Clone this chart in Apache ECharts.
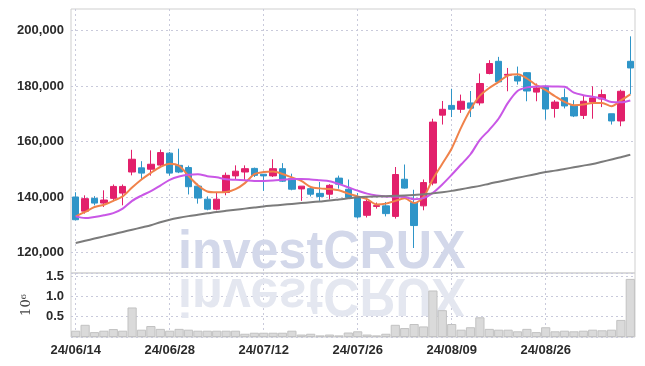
<!DOCTYPE html>
<html>
<head>
<meta charset="utf-8">
<script src="https://cdn.jsdelivr.net/npm/echarts@6/dist/echarts.min.js"></script>
<style>
html, body { margin: 0; padding: 0; background: #fff; }
#chart { width: 645px; height: 366px; }
</style>
</head>
<body>
<div id="chart"></div>
<script>
var dates = [
    '24/06/14', '24/06/17', '24/06/18', '24/06/19', '24/06/20', '24/06/21', '24/06/24', '24/06/25', '24/06/26', '24/06/27',
    '24/06/28', '24/07/01', '24/07/02', '24/07/03', '24/07/04', '24/07/05', '24/07/08', '24/07/09', '24/07/10', '24/07/11',
    '24/07/12', '24/07/15', '24/07/16', '24/07/17', '24/07/18', '24/07/19', '24/07/22', '24/07/23', '24/07/24', '24/07/25',
    '24/07/26', '24/07/29', '24/07/30', '24/07/31', '24/08/01', '24/08/02', '24/08/05', '24/08/06', '24/08/07', '24/08/08',
    '24/08/09', '24/08/12', '24/08/13', '24/08/14', '24/08/16', '24/08/19', '24/08/20', '24/08/21', '24/08/22', '24/08/23',
    '24/08/26', '24/08/27', '24/08/28', '24/08/29', '24/08/30', '24/09/02', '24/09/03', '24/09/04', '24/09/05', '24/09/06'
];

var opens = [
    140000, 134900, 139500, 137800, 139500, 141400, 149000, 150500, 150000, 151500,
    155800, 151400, 150600, 143900, 139200, 135600, 141600, 147600, 149000, 150300,
    148200, 147600, 150200, 146600, 142900, 143000, 141300, 141000, 146800, 142800,
    140000, 133400, 136600, 136800, 133000, 146400, 138000, 136800, 145000, 169500,
    173000, 171600, 173900, 173900, 184500, 188900, 183900, 183500, 184800, 177800,
    179900, 171900, 175800, 173000, 169400, 174200, 175300, 170000, 167400, 188900
];
var closes = [
    131800, 139400, 137800, 138900, 143800, 143800, 153600, 148600, 151800, 156000,
    148600, 149000, 143700, 139600, 135600, 139200, 147800, 149300, 150200, 147800,
    147600, 150200, 145700, 142800, 143900, 141000, 140200, 144200, 144600, 139800,
    132800, 138400, 136900, 134000, 148100, 143200, 129700, 145200, 167000, 171600,
    171600, 174500, 172000, 180900, 188100, 181500, 184200, 181800, 178200, 179300,
    171700, 174200, 172800, 169200, 174500, 175700, 176900, 167400, 178100, 186500
];
var lows = [
    131600, 134000, 137000, 136400, 138800, 137000, 147800, 146200, 147700, 150800,
    147700, 148600, 140900, 137600, 135200, 135200, 140600, 146400, 146000, 147200,
    142200, 147200, 145400, 142400, 138600, 140200, 138600, 139100, 143000, 139400,
    132200, 132600, 135800, 133000, 132200, 143000, 121600, 135200, 144200, 166100,
    168800, 170300, 168800, 173000, 184200, 181400, 178100, 180500, 174500, 174500,
    167900, 168600, 171900, 168800, 168100, 168200, 172400, 166100, 165500, 177000
];
var highs = [
    141700, 140600, 140300, 142400, 144500, 144500, 157000, 152900, 156800, 157100,
    156200, 157400, 151300, 144800, 140200, 141800, 148800, 151400, 151400, 150600,
    148200, 153600, 152200, 148400, 143900, 143900, 145400, 144600, 147700, 146300,
    141400, 139800, 138000, 138200, 150800, 151700, 142600, 146300, 168200, 174600,
    179000, 176900, 178200, 184500, 189300, 190500, 186500, 187000, 185000, 180900,
    180300, 174900, 179100, 174900, 176600, 179900, 178700, 170000, 178700, 197900
];

var ma5 = [
    133000, 134600, 136400, 137200, 138600, 140200, 143400, 146300, 148700, 150800,
    152000, 151200, 147600, 144200, 142000, 141700, 141800, 142800, 145000, 148200,
    149000, 149200, 148300, 147000, 145800, 143600, 143100, 142900, 142400, 141200,
    140200, 139200, 137300, 137600, 138600, 139500, 137800, 140000, 146500, 152000,
    157500, 165000, 171500, 176500, 179300, 181500, 183800, 184200, 182700, 180300,
    178500, 176300, 174300, 173100, 173300, 173900, 173900, 172700, 174800, 177000
];
var ma20 = [
    133000, 132400, 132800, 133400, 134200, 135800, 138600, 140500, 142100, 144100,
    146200, 147400, 148000, 148200, 147500, 147100, 146400, 146200, 146000, 145800,
    145800, 145900, 146200, 146500, 146500, 146300, 146000, 145700, 144700, 143500,
    142300, 141200, 140500, 140200, 140200, 140000, 139200, 139600, 141500, 144500,
    148000, 151700, 155400, 160600, 164200, 168300, 174000, 178200, 179500, 179800,
    179900, 179800, 179700, 177600, 176700, 176100, 175500, 174200, 174100, 174800
];
var ma60 = [
    123400, 124200, 125000, 125800, 126600, 127400, 128200, 129000, 129800, 130900,
    131800, 132500, 133100, 133600, 134100, 134600, 135000, 135400, 135800, 136200,
    136600, 136900, 137200, 137500, 137800, 138100, 138400, 138700, 139100, 139500,
    139900, 140100, 140200, 140300, 140400, 140500, 140700, 141000, 141300, 141700,
    142200, 142800, 143400, 144000, 144800, 145500, 146200, 146900, 147600, 148300,
    149000, 149500, 150100, 150700, 151300, 151900, 152700, 153500, 154300, 155200
];

var volumes = [
    155000, 300000, 120000, 155000, 195000, 155000, 727000, 180000, 270000, 200000,
    155000, 200000, 180000, 155000, 155000, 155000, 155000, 155000, 80000, 105000,
    105000, 105000, 105000, 155000, 60000, 80000, 40000, 60000, 40000, 110000,
    140000, 60000, 40000, 80000, 300000, 220000, 320000, 260000, 1145000, 660000,
    320000, 180000, 240000, 485000, 200000, 180000, 180000, 140000, 200000, 120000,
    240000, 140000, 155000, 140000, 155000, 180000, 165000, 180000, 420000, 1430000
];

var priceTicks = [120000, 140000, 160000, 180000, 200000];

var FONT = "'Liberation Sans', Arial, sans-serif";
var UP = '#e2206b';
var DOWN = '#2f95c8';

var candles = dates.map(function (d, i) {
    return [opens[i], closes[i], lows[i], highs[i]];
});

function everyTen(index) {
    return index % 10 === 0;
}

var gridLine = {
    show: true,
    lineStyle: { color: '#c9cadb', type: [2, 3], width: 1 }
};

var chart = echarts.init(document.getElementById('chart'));

var option = {
    animation: false,
    backgroundColor: '#fff',
    graphic: [{
        type: 'text',
        z: 1,
        x: 178,
        y: 280,
        scaleX: 0.93,
        style: {
            text: 'investCRUX',
            font: 'bold 54px "Liberation Sans", sans-serif',
            fill: '#d3d8ea',
            textVerticalAlign: 'bottom'
        }
    }, {
        type: 'text',
        z: 1,
        x: 178,
        y: 267,
        scaleX: 0.93,
        scaleY: -1,
        style: {
            text: 'investCRUX',
            font: 'bold 54px "Liberation Sans", sans-serif',
            fill: '#e4e7f0',
            textVerticalAlign: 'bottom'
        }
    }],
    grid: [{
        left: 71,
        right: 10,
        top: 9,
        height: 264,
        show: true,
        borderColor: '#cfcfcf',
        borderWidth: 1
    }, {
        left: 71,
        right: 10,
        top: 273,
        height: 64,
        show: true,
        borderColor: '#cfcfcf',
        borderWidth: 1
    }],
    xAxis: [{
        type: 'category',
        gridIndex: 0,
        data: dates,
        boundaryGap: true,
        axisLine: { show: false },
        axisTick: { show: false },
        axisLabel: { show: false },
        splitLine: Object.assign({ interval: everyTen, alignWithLabel: true }, gridLine)
    }, {
        type: 'category',
        gridIndex: 1,
        data: dates,
        boundaryGap: true,
        axisLine: { show: false },
        axisTick: { show: false },
        axisLabel: {
            interval: everyTen,
            color: '#2b2b2b',
            fontFamily: FONT,
            fontWeight: 'bold',
            fontSize: 13,
            margin: 7
        },
        splitLine: Object.assign({ interval: everyTen, alignWithLabel: true }, gridLine)
    }],
    yAxis: [{
        type: 'value',
        gridIndex: 0,
        min: 112600,
        max: 207750,
        axisLine: { show: false },
        axisTick: { show: false, customValues: priceTicks },
        axisLabel: {
            customValues: priceTicks,
            color: '#2b2b2b',
            fontFamily: FONT,
            fontWeight: 'bold',
            fontSize: 13,
            margin: 7,
            formatter: function (v) {
                return v.toLocaleString('en-US');
            }
        },
        splitLine: gridLine
    }, {
        type: 'value',
        gridIndex: 1,
        min: 0,
        max: 1575000,
        interval: 500000,
        name: '10⁶',
        nameLocation: 'middle',
        nameRotate: 90,
        nameGap: 38,
        nameTextStyle: { color: '#444', fontSize: 13, fontFamily: 'DejaVu Serif' },
        axisLine: { show: false },
        axisTick: { show: false },
        axisLabel: {
            showMinLabel: false,
            showMaxLabel: false,
            color: '#2b2b2b',
            fontFamily: FONT,
            fontWeight: 'bold',
            fontSize: 13,
            margin: 7,
            formatter: function (v) {
                return (v / 1e6).toFixed(1);
            }
        },
        splitLine: gridLine
    }],
    series: [{
        name: 'price',
        type: 'candlestick',
        xAxisIndex: 0,
        yAxisIndex: 0,
        data: candles,
        barWidth: 7,
        z: 3,
        itemStyle: {
            color: UP,
            color0: DOWN,
            borderColor: UP,
            borderColor0: DOWN,
            borderWidth: 1
        }
    }, {
        name: 'MA5',
        type: 'line',
        data: ma5,
        symbol: 'none',
        smooth: 0.3,
        z: 4,
        lineStyle: { color: '#f0824a', width: 2 }
    }, {
        name: 'MA20',
        type: 'line',
        data: ma20,
        symbol: 'none',
        smooth: 0.3,
        z: 4,
        lineStyle: { color: '#c957e6', width: 2 }
    }, {
        name: 'MA60',
        type: 'line',
        data: ma60,
        symbol: 'none',
        smooth: 0.3,
        z: 4,
        lineStyle: { color: '#7b7b7b', width: 2 }
    }, {
        name: 'volume',
        type: 'bar',
        xAxisIndex: 1,
        yAxisIndex: 1,
        data: volumes,
        barCategoryGap: '2%',
        z: 3,
        itemStyle: {
            color: '#dadada',
            borderColor: '#c2c2c2',
            borderWidth: 1
        }
    }]
};

chart.setOption(option);
window.onresize = chart.resize;
</script>
</body>
</html>
